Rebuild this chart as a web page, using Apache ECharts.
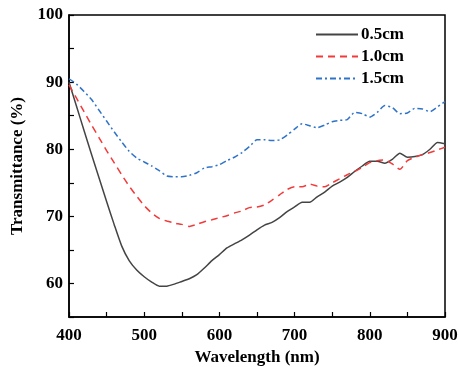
<!DOCTYPE html>
<html><head><meta charset="utf-8">
<script src="https://cdn.jsdelivr.net/npm/echarts@6/dist/echarts.min.js"></script>
<style>html,body{margin:0;padding:0;background:#fff}#c{width:459px;height:367px}</style>
</head><body><div id="c"></div>
<script>
const wavelengths = [400,410,420,430,440,450,460,470,480,490,500,510,520,530,540,550,560,570,580,590,600,610,620,630,640,650,660,670,680,690,700,710,720,730,740,750,760,770,780,790,800,810,820,830,840,850,860,870,880,890,900];
const t05 = [90,86.4,82.8,79.2,75.7,72.2,68.8,65.6,63.4,62,61,60.2,59.6,59.6,59.9,60.3,60.7,61.3,62.3,63.4,64.3,65.3,65.9,66.5,67.2,68,68.7,69.1,69.8,70.7,71.4,72.1,72.1,72.9,73.6,74.5,75.1,75.8,76.7,77.5,78.2,78.2,77.9,78.5,79.4,78.8,78.9,79.2,80,81,80.8];
const t10 = [89.6,87.6,85.6,83.6,81.7,79.8,78,76.2,74.5,73,71.6,70.5,69.7,69.3,69,68.8,68.5,68.8,69.2,69.5,69.8,70.1,70.5,70.8,71.3,71.4,71.7,72.4,73.2,74,74.4,74.4,74.8,74.5,74.4,75,75.6,76.2,76.7,77.3,78,78.3,78.4,77.8,77,78.3,78.8,79.2,79.5,79.9,80.3];
const t15 = [90.5,89.7,88.6,87.4,85.8,84.2,82.6,81.1,79.7,78.7,78.1,77.5,76.8,76,75.9,75.9,76.1,76.5,77.2,77.4,77.7,78.3,78.8,79.5,80.4,81.4,81.4,81.3,81.4,82.1,83,83.8,83.5,83.2,83.6,84.1,84.3,84.4,85.5,85.3,84.8,85.5,86.5,86.2,85.3,85.4,86.1,86,85.6,86.3,87.1];
const seriesNames = ['0.5cm','1.0cm','1.5cm'];
const xTicks = [400,500,600,700,800,900];
const yTicks = [60,70,80,90,100];

const font = '"Liberation Serif","Times New Roman",serif';
function pairs(v){return wavelengths.map((w,i)=>[w,v[i]]);}
const chart = echarts.init(document.getElementById('c'));
chart.setOption({
  animation:false,
  backgroundColor:'#fff',
  grid:{left:69,top:15,right:14,bottom:50,show:true,borderColor:'#000',borderWidth:1.5,
        containLabel:false,outerBoundsMode:'none'},
  legend:{
    orient:'vertical',left:310,top:21,itemWidth:42,itemHeight:14,itemGap:5,
    data:seriesNames,
    itemStyle:{color:'rgba(0,0,0,0)',borderColor:'rgba(0,0,0,0)',borderWidth:0,opacity:0},
    textStyle:{fontFamily:font,fontWeight:'bold',fontSize:17,color:'#000',padding:[0,0,0,-2]}
  },
  xAxis:{
    type:'value',min:400,max:900,interval:50,
    name:'Wavelength (nm)',nameLocation:'middle',nameGap:28,
    nameTextStyle:{fontFamily:font,fontWeight:'bold',fontSize:17,color:'#000'},
    axisLine:{lineStyle:{color:'#000',width:1.5}},
    axisTick:{inside:true,length:5,lineStyle:{color:'#000',width:1.2}},
    axisLabel:{fontFamily:font,fontWeight:'bold',fontSize:17,color:'#000',margin:10,
      formatter:v=>xTicks.includes(v)?String(v):''},
    splitLine:{show:false}
  },
  yAxis:{
    type:'value',min:55,max:100,interval:5,
    name:'Transmittance (%)',nameLocation:'middle',nameGap:36,
    nameTextStyle:{fontFamily:font,fontWeight:'bold',fontSize:17,color:'#000'},
    axisLine:{lineStyle:{color:'#000',width:1.5}},
    axisTick:{inside:true,length:5,lineStyle:{color:'#000',width:1.2}},
    axisLabel:{fontFamily:font,fontWeight:'bold',fontSize:17,color:'#000',margin:6,
      formatter:v=>yTicks.includes(v)?String(v):''},
    splitLine:{show:false}
  },
  series:[
    {name:seriesNames[0],type:'line',data:pairs(t05),showSymbol:false,symbol:'none',smooth:0.2,
     lineStyle:{color:'#444',width:1.5,type:'solid'},itemStyle:{color:'#444'}},
    {name:seriesNames[1],type:'line',data:pairs(t10),showSymbol:false,symbol:'none',smooth:0.2,
     lineStyle:{color:'#f23a3a',width:1.5,type:[7,5]},itemStyle:{color:'#f23a3a'}},
    {name:seriesNames[2],type:'line',data:pairs(t15),showSymbol:false,symbol:'none',smooth:0.2,
     lineStyle:{color:'#2f73c9',width:1.5,type:[6,3,2,3]},itemStyle:{color:'#2f73c9'}}
  ]
});
</script></body></html>
